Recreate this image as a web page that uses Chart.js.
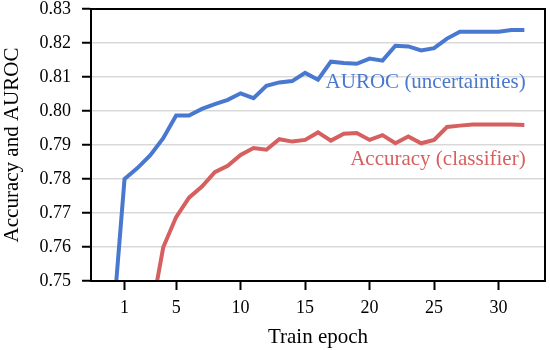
<!DOCTYPE html>
<html>
<head>
<meta charset="utf-8">
<script src="https://cdn.jsdelivr.net/npm/chart.js@4"></script>
<style>
  html, body { margin: 0; padding: 0; background: #fff; }
</style>
</head>
<body>
<canvas id="myLineChart01" width="550" height="350"></canvas>
<script>
/*  data
-------------------------------------------------------*/
var epochs = [0, 1, 2, 3, 4, 5, 6, 7, 8, 9, 10, 11, 12, 13, 14, 15, 16,
              17, 18, 19, 20, 21, 22, 23, 24, 25, 26, 27, 28, 29, 30, 31, 32];
var auroc = [0.733, 0.780, 0.7832, 0.787, 0.792, 0.7987, 0.7987, 0.8006, 0.802, 0.8033, 0.8052,
             0.8038, 0.8074, 0.8084, 0.8088, 0.8112, 0.8092, 0.8145, 0.8141, 0.8139, 0.8154,
             0.8148, 0.8192, 0.8190, 0.8178, 0.8185, 0.8213, 0.8233, 0.8233, 0.8233, 0.8233,
             0.8238, 0.8238];
var accuracy = [0.69, 0.71, 0.727, 0.739, 0.7599, 0.7688, 0.7745, 0.7778, 0.782, 0.7839, 0.7871,
                0.7891, 0.7886, 0.7917, 0.791, 0.7915, 0.7937, 0.7913, 0.7933, 0.7935, 0.7915,
                0.7929, 0.7905, 0.7925, 0.7905, 0.7915, 0.7953, 0.7957, 0.796, 0.796, 0.796,
                0.796, 0.7959];
var xTicks = [1, 5, 10, 15, 20, 25, 30];
var yTicks = [0.75, 0.76, 0.77, 0.78, 0.79, 0.80, 0.81, 0.82, 0.83];

var BLUE = "#4878d0";
var RED = "#d65f5f";
var FONT = "'Liberation Serif', 'Times New Roman', serif";

function toPoints(vals) {
  return epochs.map(function (e, i) { return { x: e, y: vals[i] }; });
}

/*  frame + inline labels
-------------------------------------------------------*/
var framePlugin = {
  id: 'frame',
  afterDatasetsDraw: function (chart) {
    var c = chart.ctx, a = chart.chartArea;
    var xs = chart.scales.x, ys = chart.scales.y;
    c.save();
    c.font = "21px " + FONT;
    c.textAlign = "right";
    c.textBaseline = "middle";
    c.fillStyle = BLUE;
    c.fillText("AUROC (uncertainties)", xs.getPixelForValue(32.1), ys.getPixelForValue(0.8083));
    c.fillStyle = RED;
    c.fillText("Accuracy (classifier)", xs.getPixelForValue(32.1), ys.getPixelForValue(0.7856));
    c.strokeStyle = "#000";
    c.lineWidth = 2;
    c.strokeRect(a.left, a.top, a.right - a.left, a.bottom - a.top);
    c.restore();
  }
};

var ctx = document.getElementById("myLineChart01");
var myLineChart = new Chart(ctx, {
  type: 'line',
  data: {
    datasets: [{
        label: 'AUROC (uncertainties)',
        data: toPoints(auroc),
        borderColor: BLUE,
        borderWidth: 4,
        pointRadius: 0,
        tension: 0
      }, {
        label: 'Accuracy (classifier)',
        data: toPoints(accuracy),
        borderColor: RED,
        borderWidth: 4,
        pointRadius: 0,
        tension: 0
      }
    ]
  },
  options: {
    responsive: false,
    animation: false,
    layout: { padding: { top: 9, right: 5, left: 0, bottom: 0 } },
    plugins: {
      legend: { display: false },
      tooltip: { enabled: false }
    },
    scales: {
      x: {
        type: 'linear',
        min: -1.6,
        max: 33.6,
        afterBuildTicks: function (s) { s.ticks = xTicks.map(function (v) { return { value: v }; }); },
        afterFit: function (s) { s.height = 69; s.paddingLeft = 0; s.paddingRight = 0; },
        grid: { drawOnChartArea: false, drawTicks: true, tickLength: 9, tickColor: '#000', tickWidth: 2 },
        border: { display: true, color: '#000', width: 2 },
        ticks: { color: '#000', font: { family: FONT, size: 18 }, padding: 7, maxRotation: 0 },
        title: { display: true, text: 'Train epoch', color: '#000', font: { family: FONT, size: 21 }, padding: 0 }
      },
      y: {
        min: 0.75,
        max: 0.83,
        afterBuildTicks: function (s) { s.ticks = yTicks.map(function (v) { return { value: v }; }); },
        afterFit: function (s) { s.width = 91; s.paddingTop = 0; s.paddingBottom = 0; },
        grid: { color: '#d9d9d9', lineWidth: 1.5, drawTicks: true, tickLength: 9, tickColor: '#000', tickWidth: 2 },
        border: { display: true, color: '#000', width: 2 },
        ticks: {
          color: '#000', font: { family: FONT, size: 18 }, padding: 11,
          callback: function (v) { return v.toFixed(2); }
        },
        title: { display: true, text: 'Accuracy and AUROC', color: '#000', font: { family: FONT, size: 21 }, padding: 0 }
      }
    }
  },
  plugins: [framePlugin]
});
</script>
</body>
</html>
